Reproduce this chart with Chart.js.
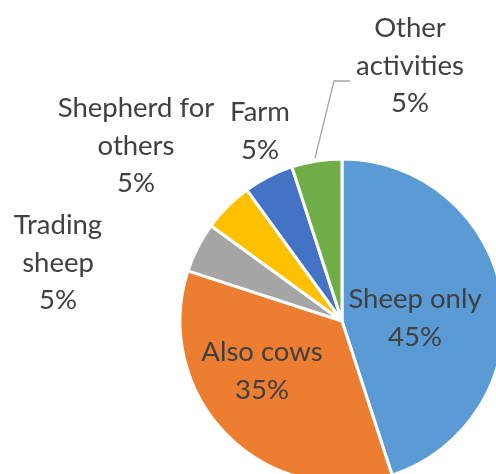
<!DOCTYPE html>
<html>
<head>
<meta charset="utf-8">
<script src="https://cdn.jsdelivr.net/npm/chart.js@4.4.1/dist/chart.umd.min.js"></script>
<style>
  html, body { margin: 0; padding: 0; background: #fff; }
  #wrap { position: relative; width: 496px; height: 474px; overflow: hidden; }
  #pieChart { position: absolute; left: -8px; top: -29px; }
</style>
</head>
<body>
<div id="wrap"><canvas id="pieChart" width="700" height="700"></canvas></div>
<script>
// Данные диаграммы
const categories = ['Sheep only', 'Also cows', 'Trading sheep', 'Shepherd for others', 'Farm', 'Other activities'];
const values = [45, 35, 5, 5, 5, 5];
const colors = ['#5B9BD5', '#ED7D31', '#A5A5A5', '#FFC000', '#4472C4', '#70AD47'];
// Переносы строк в подписях
const labelLines = [
    ['Sheep only'],
    ['Also cows'],
    ['Trading', 'sheep'],
    ['Shepherd for', 'others'],
    ['Farm'],
    ['Other', 'activities']
];

// Положение подписей относительно центра круга (px)
const labelPos = [
    { x: 73, y: -3 },
    { x: -80, y: 50 },
    { x: -284, y: -58 },
    { x: -206, y: -175 },
    { x: -82, y: -190 },
    { x: 68, y: -255 }
];
const lineH = 37.5;

const total = values.reduce((a, b) => a + b, 0);

// Плагин для подписей
const labelPlugin = {
    id: 'pieLabels',
    afterDatasetsDraw(chart) {
        const ctx = chart.ctx;
        const arc = chart.getDatasetMeta(0).data[0];
        const cx = arc.x, cy = arc.y;
        ctx.save();
        // выноска для "Other activities"
        ctx.strokeStyle = '#A6A6A6';
        ctx.lineWidth = 1.3;
        ctx.beginPath();
        ctx.moveTo(cx - 27, cy - 163);
        ctx.lineTo(cx - 8, cy - 240);
        ctx.lineTo(cx + 8, cy - 240);
        ctx.stroke();

        ctx.font = '27.5px Lato';
        ctx.fillStyle = '#404040';
        ctx.textAlign = 'center';
        ctx.textBaseline = 'middle';
        labelLines.forEach((lines, i) => {
            const pct = Math.round(values[i] / total * 100) + '%';
            const all = lines.concat([pct]);
            const p = labelPos[i];
            all.forEach((t, k) => {
                ctx.fillText(t, cx + p.x, cy + p.y + (k - (all.length - 1) / 2) * lineH);
            });
        });
        ctx.restore();
    }
};

new Chart(document.getElementById('pieChart').getContext('2d'), {
    type: 'pie',
    data: {
        labels: categories,
        datasets: [{
            data: values,
            backgroundColor: colors,
            borderColor: '#ffffff',
            borderWidth: 3,
            radius: 162
        }]
    },
    options: {
        responsive: false,
        animation: false,
        plugins: {
            legend: { display: false },
            tooltip: { enabled: false }
        }
    },
    plugins: [labelPlugin]
});
</script>
</body>
</html>
